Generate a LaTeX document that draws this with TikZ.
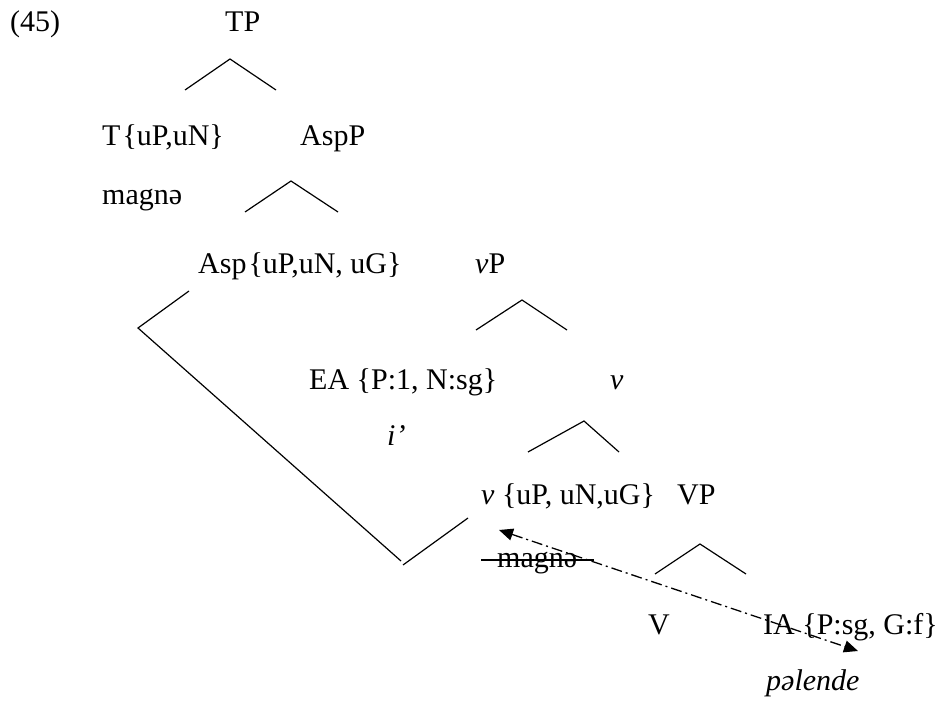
\documentclass[tikz,border=0pt]{standalone}
\usepackage{fontspec}
\setmainfont{Liberation Serif}
\usetikzlibrary{arrows.meta}
\begin{document}
\begin{tikzpicture}[x=1pt,y=-1pt,
  lbl/.style={anchor=base west,inner sep=0pt,font=\fontsize{30}{34}\selectfont},
  branch/.style={line width=1.2pt,line join=miter},
  move/.style={line width=1.3pt,dash pattern=on 11pt off 4pt on 2pt off 4pt,
    {Triangle[length=14pt,width=12pt]}-{Triangle[length=14pt,width=12pt]}}]
\useasboundingbox (0,0) rectangle (946,701);
% labels
\node[lbl] (ex) at (10,32) {(45)};
\node[lbl] (tp) at (225,32) {TP};
\node[lbl] (t) at (102,145) {T\kern2pt\{uP,uN\}};
\node[lbl] (aspp) at (300,145) {AspP};
\node[lbl] (mag1) at (102,204) {magnə};
\node[lbl] (asp) at (198,273) {Asp\kern2pt\{uP,uN, uG\}};
\node[lbl] (vp) at (475,273) {\textit{v}P};
\node[lbl] (ea) at (309,389) {EA \{P:1, N:sg\}};
\node[lbl] (vbar) at (610,389) {\textit{v}};
\node[lbl] (i) at (387,445) {\textit{i’}};
\node[lbl] (v) at (481,504) {\textit{v} \{uP, uN,uG\}};
\node[lbl] (vpp) at (677,504) {VP};
\node[lbl] (mag2) at (497,567) {magnə};
\node[lbl] (V) at (648,634) {V};
\node[lbl] (ia) at (763,634) {IA \{P:sg, G:f\}};
\node[lbl] (pal) at (766,690) {\textit{pəlende}};
% triangles
\draw[branch] (185,90) -- (230,59) -- (276,90);
\draw[branch] (245,212) -- (291,181) -- (338,212);
\draw[branch] (476,330) -- (522,300) -- (567,330);
\draw[branch] (528,452) -- (584,421) -- (619,452);
\draw[branch] (655,574) -- (700,544) -- (746,574);
% big bracket
\draw[branch] (189,291) -- (138,328) -- (401,561);
\draw[branch] (403,565) -- (468,518);
% strikethrough
\draw[line width=1.2pt] (481,560) -- (594,560);
% movement arrow
\coordinate (a1) at (499,530);
\coordinate (a2) at (858,651);
\draw[move] (a1) -- (a2);
\end{tikzpicture}
\end{document}
